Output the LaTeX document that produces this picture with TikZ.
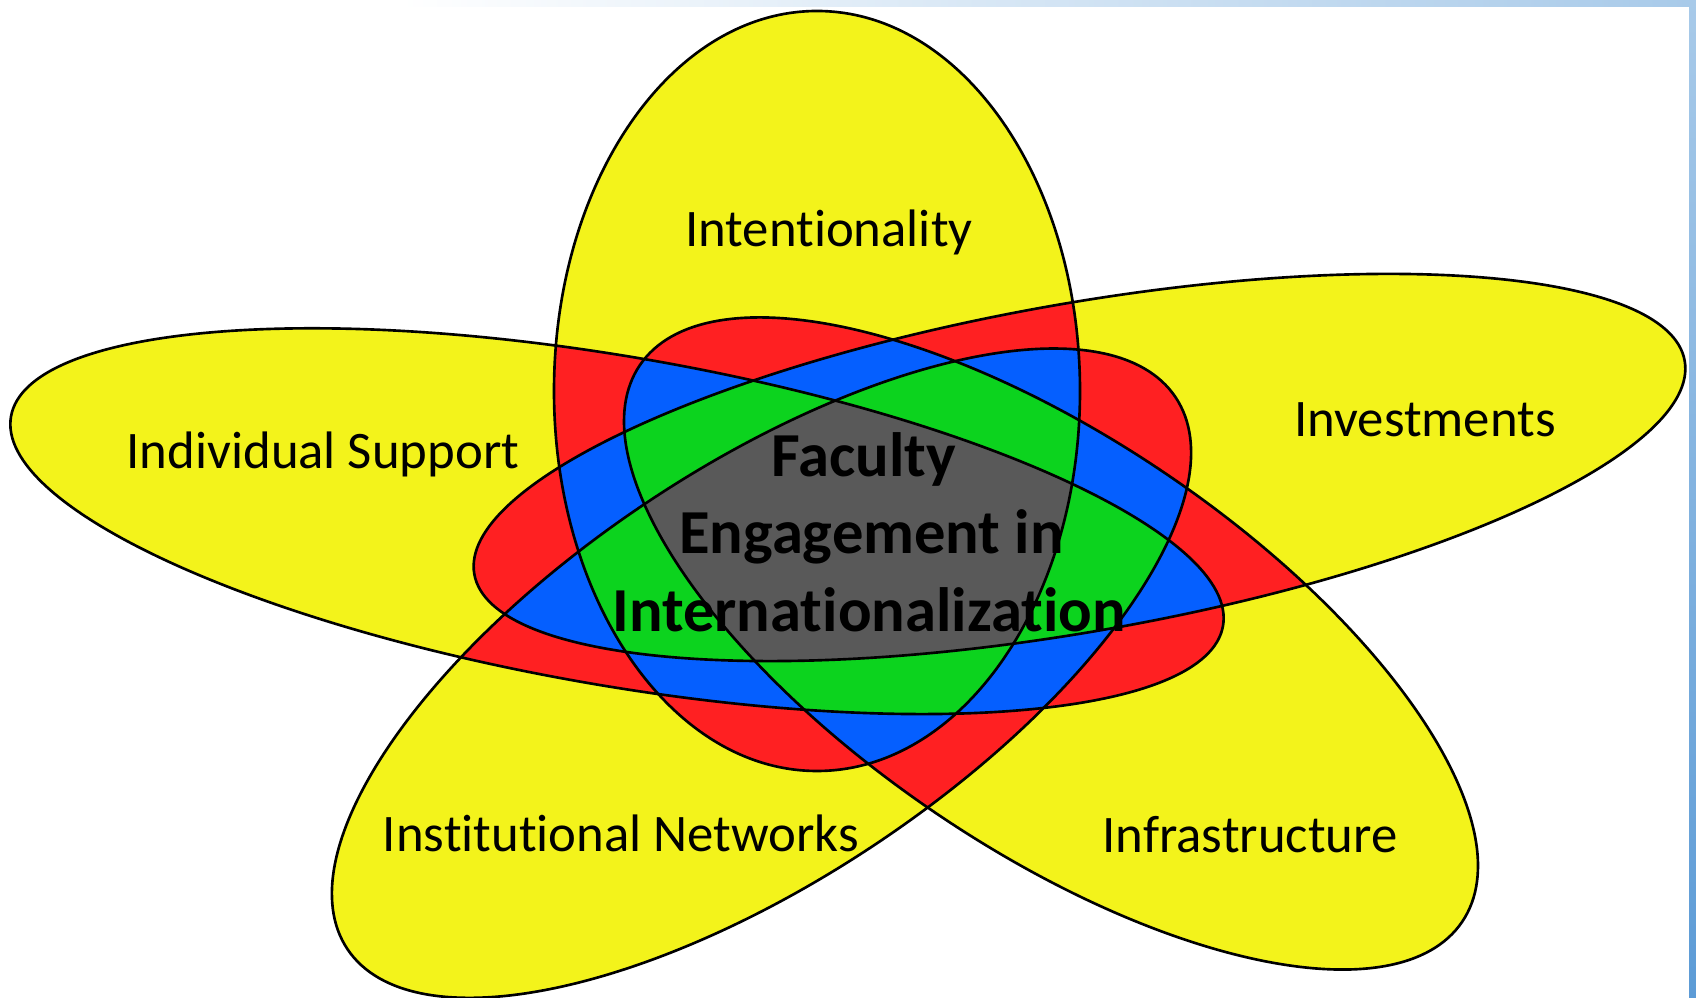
\documentclass[tikz,border=0pt]{standalone}
\usepackage{fontspec}
\setmainfont[Ligatures={NoCommon,NoContextual}]{Carlito}
\definecolor{cyel}{RGB}{243,243,27}
\definecolor{cred}{RGB}{255,32,34}
\definecolor{cblu}{RGB}{5,95,255}
\definecolor{cgrn}{RGB}{12,211,30}
\definecolor{cgry}{RGB}{89,89,89}
\definecolor{stripL}{RGB}{168,202,233}
\definecolor{stripD}{RGB}{92,155,214}
\newcommand\elA{(817,391) circle [x radius=263, y radius=380]}
\newcommand\elB{(1079.5,467.5) circle [x radius=614.5, y radius=164, rotate=10]}
\newcommand\elC{(1051,643.5) circle [x radius=496.5, y radius=205, rotate=-34.1]}
\newcommand\elD{(761.5,673.2) circle [x radius=497.6, y radius=205.6, rotate=33.67]}
\newcommand\elE{(617,521.2) circle [x radius=615, y radius=164.4, rotate=-9.8]}
\newcommand\cA{\clip \elA;}
\newcommand\cB{\clip \elB;}
\newcommand\cC{\clip \elC;}
\newcommand\cD{\clip \elD;}
\newcommand\cE{\clip \elE;}
\newcommand\reg[2]{\begin{scope}#2\fill[#1] (0,0) rectangle (1696,998);\end{scope}}
\begin{document}
\begin{tikzpicture}[x=0.01cm,y=-0.01cm,
  lbl/.style={font=\fontsize{15}{18}\selectfont, anchor=base, inner sep=0pt},
  ctr/.style={font=\fontsize{17.8}{21.8}\selectfont\bfseries, anchor=base, inner sep=0pt},
  outl/.style={draw=black, line width=0.75pt}]
\useasboundingbox (0,0) rectangle (1696,998);
\fill[white] (0,0) rectangle (1696,998);
\shade[left color=white, right color=stripL] (400,0) rectangle (1689,7);
\shade[top color=stripL, bottom color=stripD] (1689,0) rectangle (1696,998);
% single sets
\fill[cyel] \elA; \fill[cyel] \elB; \fill[cyel] \elC; \fill[cyel] \elD; \fill[cyel] \elE;
% pairs
\reg{cred}{\cA\cB} \reg{cred}{\cA\cC} \reg{cred}{\cA\cD} \reg{cred}{\cA\cE}
\reg{cred}{\cB\cC} \reg{cred}{\cB\cD} \reg{cred}{\cB\cE}
\reg{cred}{\cC\cD} \reg{cred}{\cC\cE} \reg{cred}{\cD\cE}
% triples
\reg{cblu}{\cA\cB\cC} \reg{cblu}{\cA\cB\cD} \reg{cblu}{\cA\cB\cE}
\reg{cblu}{\cA\cC\cD} \reg{cblu}{\cA\cC\cE} \reg{cblu}{\cA\cD\cE}
\reg{cblu}{\cB\cC\cD} \reg{cblu}{\cB\cC\cE} \reg{cblu}{\cB\cD\cE}
\reg{cblu}{\cC\cD\cE}
% quadruples
\reg{cgrn}{\cA\cB\cC\cD} \reg{cgrn}{\cA\cB\cC\cE} \reg{cgrn}{\cA\cB\cD\cE}
\reg{cgrn}{\cA\cC\cD\cE} \reg{cgrn}{\cB\cC\cD\cE}
% all five
\reg{cgry}{\cA\cB\cC\cD\cE}
% outlines
\draw[outl] \elA; \draw[outl] \elB; \draw[outl] \elC; \draw[outl] \elD; \draw[outl] \elE;
% labels
\node[lbl] (intent) at (829,246.6) {Intentionality};
\node[lbl] (invest) at (1425,436.7) {Investments};
\node[lbl] (indiv) at (323,468.3) {Individual Support};
\node[lbl] (instnet) at (621,851.7) {Institutional Networks};
\node[lbl] (infra) at (1250,852.7) {Infrastructure};
\node[ctr] (fac1) at (863.5,477) {Faculty};
\node[ctr] (fac2) at (871.5,553.3) {Engagement in};
\node[ctr] (fac3) at (869,631.7) {Internationalization};
\end{tikzpicture}
\end{document}
